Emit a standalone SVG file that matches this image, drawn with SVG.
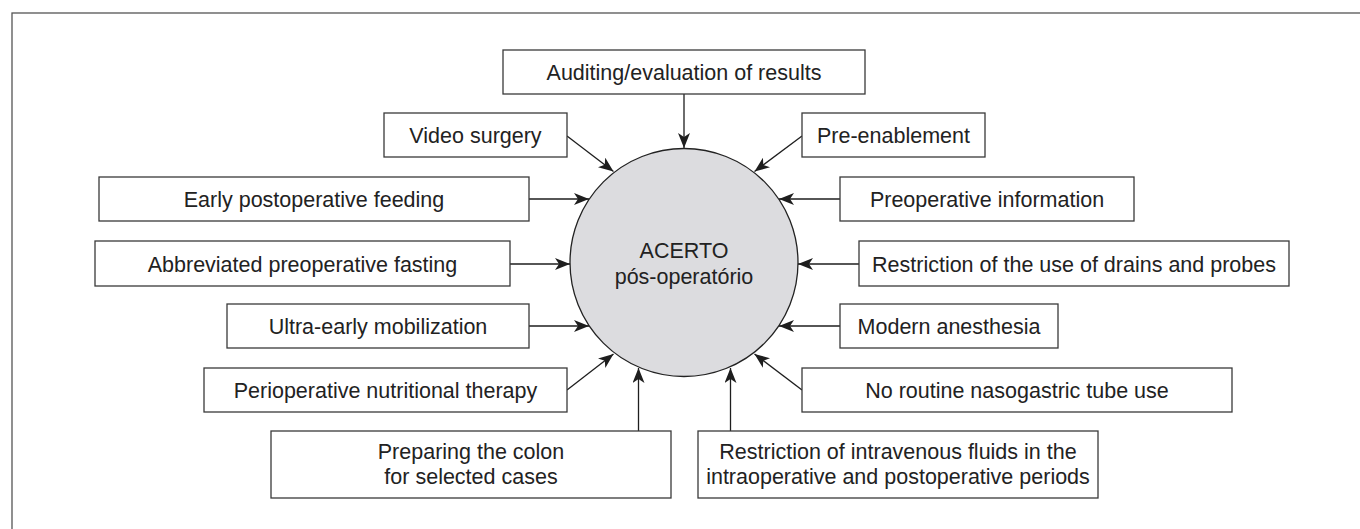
<svg xmlns="http://www.w3.org/2000/svg" width="1360" height="529" viewBox="0 0 1360 529">
  <style>
    .box { fill: #ffffff; stroke: #3a3a3a; stroke-width: 1.3; }
    .lbl { font-family: "Liberation Sans", Arial, sans-serif; font-size: 21.5px; fill: #222222; text-anchor: middle; }
    .conn { stroke: #1e1e1e; stroke-width: 1.3; fill: none; marker-end: url(#arrow); }
  </style>
  <defs>
    <marker id="arrow" viewBox="0 0 15 12" markerWidth="15" markerHeight="12" refX="15" refY="6" orient="auto" markerUnits="userSpaceOnUse">
      <path d="M0,0 L15,6 L0,12 L4,6 Z" fill="#1e1e1e"/>
    </marker>
  </defs>

  <rect width="1360" height="529" fill="#ffffff"/>
  <!-- outer frame -->
  <rect x="12" y="13" width="1400" height="560" fill="none" stroke="#555555" stroke-width="1.3"/>

  <!-- central node -->
  <g id="center">
    <circle cx="684" cy="262.5" r="114" fill="#dcdcdf" stroke="#222222" stroke-width="1.3"/>
    <text class="lbl" x="684" y="258">ACERTO</text>
    <text class="lbl" x="684" y="284">pós-operatório</text>
  </g>

  <!-- connectors -->
  <g id="connectors">
    <line class="conn" x1="684" y1="94" x2="684" y2="148"/>
    <line class="conn" x1="567" y1="136" x2="613.5" y2="171.5"/>
    <line class="conn" x1="802" y1="136" x2="754.5" y2="171.5"/>
    <line class="conn" x1="529" y1="199" x2="589" y2="199"/>
    <line class="conn" x1="840" y1="199" x2="779" y2="199"/>
    <line class="conn" x1="510" y1="264" x2="570" y2="264"/>
    <line class="conn" x1="859" y1="264" x2="798" y2="264"/>
    <line class="conn" x1="529" y1="326" x2="589" y2="326"/>
    <line class="conn" x1="840" y1="326" x2="779" y2="326"/>
    <line class="conn" x1="567" y1="390" x2="613.5" y2="354"/>
    <line class="conn" x1="802" y1="390" x2="754.5" y2="354"/>
    <line class="conn" x1="638.5" y1="431" x2="638.5" y2="368"/>
    <line class="conn" x1="730.5" y1="431" x2="730.5" y2="368"/>
  </g>

  <!-- surrounding nodes -->
  <g id="auditing">
    <rect class="box" x="503" y="50" width="362" height="44"/>
    <text class="lbl" x="684" y="80">Auditing/evaluation of results</text>
  </g>
  <g id="video-surgery">
    <rect class="box" x="384" y="113" width="183" height="44"/>
    <text class="lbl" x="475.5" y="143">Video surgery</text>
  </g>
  <g id="pre-enablement">
    <rect class="box" x="802" y="113" width="183" height="44"/>
    <text class="lbl" x="893.5" y="143">Pre-enablement</text>
  </g>
  <g id="early-feeding">
    <rect class="box" x="99" y="177" width="430" height="44"/>
    <text class="lbl" x="314" y="207">Early postoperative feeding</text>
  </g>
  <g id="preop-information">
    <rect class="box" x="840" y="177" width="294" height="44"/>
    <text class="lbl" x="987" y="207">Preoperative information</text>
  </g>
  <g id="abbreviated-fasting">
    <rect class="box" x="95" y="241" width="415" height="45"/>
    <text class="lbl" x="302.5" y="271.5">Abbreviated preoperative fasting</text>
  </g>
  <g id="drains-probes">
    <rect class="box" x="859" y="241" width="430" height="45"/>
    <text class="lbl" x="1074" y="271.5">Restriction of the use of drains and probes</text>
  </g>
  <g id="ultra-early-mobilization">
    <rect class="box" x="227" y="304" width="302" height="44"/>
    <text class="lbl" x="378" y="334">Ultra-early mobilization</text>
  </g>
  <g id="modern-anesthesia">
    <rect class="box" x="840" y="304" width="218" height="44"/>
    <text class="lbl" x="949" y="334">Modern anesthesia</text>
  </g>
  <g id="nutritional-therapy">
    <rect class="box" x="204" y="368" width="363" height="44"/>
    <text class="lbl" x="385.5" y="398">Perioperative nutritional therapy</text>
  </g>
  <g id="nasogastric-tube">
    <rect class="box" x="802" y="368" width="430" height="44"/>
    <text class="lbl" x="1017" y="398">No routine nasogastric tube use</text>
  </g>
  <g id="colon-preparation">
    <rect class="box" x="271" y="431" width="400" height="67"/>
    <text class="lbl" x="471" y="459">Preparing the colon</text>
    <text class="lbl" x="471" y="484">for selected cases</text>
  </g>
  <g id="iv-fluids">
    <rect class="box" x="698" y="431" width="400" height="67"/>
    <text class="lbl" x="898" y="459">Restriction of intravenous fluids in the</text>
    <text class="lbl" x="898" y="484">intraoperative and postoperative periods</text>
  </g>
</svg>
